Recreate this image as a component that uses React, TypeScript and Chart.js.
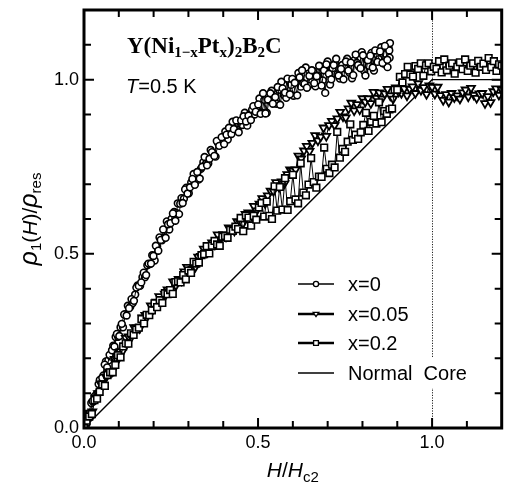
import React, { useEffect, useRef } from "react";
import { Chart, registerables } from "chart.js";

Chart.register(...registerables);

// ---------------- data ----------------
const xTickValues = [0, 0.5, 1.0];
const yTickValues = [0, 0.5, 1.0];
const minorTickValues = [0.1, 0.2, 0.3, 0.4, 0.5, 0.6, 0.7, 0.8, 0.9, 1.0, 1.1];
const hc2Line = 1.0;

const legendLabels = ["x=0", "x=0.05", "x=0.2", "Normal  Core"];

// x = 0 (circles), first field sweep: [H/Hc2, rho1/rho_res]
const seriesX0: [number, number][] = [
  [0.000, 0.000], [0.007, 0.011], [0.014, 0.042], [0.021, 0.072], [0.028, 0.077], [0.035, 0.086],
  [0.042, 0.126], [0.049, 0.137], [0.056, 0.151], [0.063, 0.191], [0.070, 0.194], [0.077, 0.205],
  [0.084, 0.236], [0.091, 0.261], [0.098, 0.262], [0.105, 0.289], [0.112, 0.289], [0.119, 0.327],
  [0.126, 0.351], [0.133, 0.348], [0.140, 0.359], [0.147, 0.383], [0.154, 0.409], [0.161, 0.408],
  [0.168, 0.433], [0.175, 0.433], [0.182, 0.467], [0.189, 0.471], [0.196, 0.496], [0.203, 0.481],
  [0.210, 0.522], [0.217, 0.547], [0.224, 0.539], [0.231, 0.546], [0.238, 0.593], [0.245, 0.570],
  [0.252, 0.601], [0.259, 0.620], [0.266, 0.617], [0.273, 0.614], [0.280, 0.660], [0.287, 0.658],
  [0.294, 0.690], [0.301, 0.674], [0.308, 0.705], [0.315, 0.729], [0.322, 0.711], [0.329, 0.713],
  [0.336, 0.744], [0.343, 0.763], [0.350, 0.758], [0.357, 0.759], [0.364, 0.798], [0.371, 0.789],
  [0.378, 0.779], [0.385, 0.818], [0.392, 0.821], [0.399, 0.822], [0.406, 0.851], [0.413, 0.828],
  [0.420, 0.861], [0.427, 0.879], [0.434, 0.858], [0.441, 0.855], [0.448, 0.880], [0.455, 0.870],
  [0.462, 0.905], [0.469, 0.868], [0.476, 0.900], [0.483, 0.914], [0.490, 0.900], [0.497, 0.913],
  [0.504, 0.946], [0.511, 0.905], [0.518, 0.942], [0.525, 0.905], [0.532, 0.941], [0.539, 0.968],
  [0.546, 0.944], [0.553, 0.931], [0.560, 0.971], [0.567, 0.994], [0.574, 0.956], [0.581, 0.948],
  [0.588, 0.998], [0.595, 0.985], [0.602, 0.954], [0.609, 1.000], [0.616, 1.019], [0.623, 0.980],
  [0.630, 0.990], [0.637, 1.035], [0.644, 0.982], [0.651, 1.012], [0.658, 1.025], [0.665, 0.981],
  [0.672, 1.011], [0.679, 1.038], [0.686, 0.998], [0.693, 0.962], [0.700, 1.052], [0.707, 0.986],
  [0.714, 1.033], [0.721, 1.046], [0.728, 1.015], [0.735, 1.003], [0.742, 1.042], [0.749, 1.033],
  [0.756, 1.060], [0.763, 1.020], [0.770, 1.004], [0.777, 1.056], [0.784, 1.048], [0.791, 1.036],
  [0.798, 1.079], [0.805, 1.025], [0.812, 1.058], [0.819, 1.040], [0.826, 1.077], [0.833, 1.026],
  [0.840, 1.074], [0.847, 1.059], [0.854, 1.093], [0.861, 1.046], [0.868, 1.074], [0.872, 1.036],
  [0.875, 1.091], [0.877, 1.084], [0.878, 1.063], [0.879, 1.105],
];

// x = 0 (circles), second field sweep
const seriesX0b: [number, number][] = [
  [0.0035, 0.022], [0.0105, 0.026], [0.0175, 0.037], [0.0245, 0.077], [0.0315, 0.092], [0.0385, 0.100],
  [0.0455, 0.138], [0.0525, 0.144], [0.0595, 0.182], [0.0665, 0.174], [0.0735, 0.210], [0.0805, 0.223],
  [0.0875, 0.234], [0.0945, 0.270], [0.1015, 0.264], [0.1085, 0.299], [0.1155, 0.326], [0.1225, 0.323],
  [0.1295, 0.344], [0.1365, 0.370], [0.1435, 0.365], [0.1505, 0.403], [0.1575, 0.408], [0.1645, 0.418],
  [0.1715, 0.446], [0.1785, 0.439], [0.1855, 0.472], [0.1925, 0.472], [0.1995, 0.494], [0.2065, 0.523],
  [0.2135, 0.509], [0.2205, 0.540], [0.2275, 0.570], [0.2345, 0.546], [0.2415, 0.585], [0.2485, 0.588],
  [0.2555, 0.616], [0.2625, 0.595], [0.2695, 0.645], [0.2765, 0.644], [0.2835, 0.646], [0.2905, 0.685],
  [0.2975, 0.673], [0.3045, 0.691], [0.3115, 0.715], [0.3185, 0.698], [0.3255, 0.735], [0.3325, 0.716],
  [0.3395, 0.750], [0.3465, 0.778], [0.3535, 0.754], [0.3605, 0.773], [0.3675, 0.792], [0.3745, 0.781],
  [0.3815, 0.824], [0.3885, 0.810], [0.3955, 0.835], [0.4025, 0.815], [0.4095, 0.842], [0.4165, 0.862],
  [0.4235, 0.844], [0.4305, 0.858], [0.4375, 0.883], [0.4445, 0.849], [0.4515, 0.883], [0.4585, 0.895],
  [0.4655, 0.880], [0.4725, 0.897], [0.4795, 0.884], [0.4865, 0.924], [0.4935, 0.908], [0.5005, 0.929],
  [0.5075, 0.902], [0.5145, 0.961], [0.5215, 0.903], [0.5285, 0.943], [0.5355, 0.961], [0.5425, 0.931],
  [0.5495, 0.950], [0.5565, 0.979], [0.5635, 0.928], [0.5705, 0.975], [0.5775, 0.963], [0.5845, 1.003],
  [0.5915, 0.958], [0.5985, 1.002], [0.6055, 0.991], [0.6125, 0.955], [0.6195, 1.007], [0.6265, 1.027],
  [0.6335, 0.988], [0.6405, 0.977], [0.6475, 1.011], [0.6545, 1.027], [0.6615, 0.990], [0.6685, 1.010],
  [0.6755, 1.040], [0.6825, 0.983], [0.6895, 1.027], [0.6965, 1.044], [0.7035, 1.017], [0.7105, 1.001],
  [0.7175, 1.042], [0.7245, 1.060], [0.7315, 1.012], [0.7385, 1.031], [0.7455, 1.001], [0.7525, 1.052],
  [0.7595, 1.026], [0.7665, 1.049], [0.7735, 1.013], [0.7805, 1.072], [0.7875, 1.042], [0.7945, 1.033],
  [0.8015, 1.070], [0.8085, 1.012], [0.8155, 1.056], [0.8225, 1.069], [0.8295, 1.035], [0.8365, 1.084],
  [0.8435, 1.051], [0.8505, 1.081], [0.8575, 1.048], [0.8645, 1.097], [0.8715, 1.057],
];

// x = 0.05 (down triangles)
const seriesX005: [number, number][] = [
  [0.000, 0.000], [0.008, 0.030], [0.016, 0.043], [0.024, 0.047], [0.032, 0.087], [0.040, 0.099],
  [0.048, 0.127], [0.056, 0.124], [0.064, 0.146], [0.072, 0.162], [0.080, 0.160], [0.088, 0.198],
  [0.096, 0.194], [0.104, 0.219], [0.112, 0.222], [0.120, 0.258], [0.128, 0.262], [0.136, 0.261],
  [0.144, 0.289], [0.152, 0.288], [0.160, 0.286], [0.168, 0.317], [0.176, 0.324], [0.184, 0.324],
  [0.192, 0.351], [0.200, 0.342], [0.208, 0.362], [0.216, 0.378], [0.224, 0.364], [0.232, 0.385],
  [0.240, 0.397], [0.248, 0.394], [0.256, 0.420], [0.264, 0.409], [0.272, 0.427], [0.280, 0.423],
  [0.288, 0.449], [0.296, 0.462], [0.304, 0.454], [0.312, 0.456], [0.320, 0.462], [0.328, 0.491],
  [0.336, 0.493], [0.344, 0.514], [0.352, 0.504], [0.360, 0.520], [0.368, 0.532], [0.376, 0.526],
  [0.384, 0.555], [0.392, 0.541], [0.400, 0.556], [0.408, 0.549], [0.416, 0.575], [0.424, 0.572],
  [0.432, 0.566], [0.440, 0.593], [0.448, 0.590], [0.456, 0.586], [0.464, 0.614], [0.472, 0.618],
  [0.480, 0.614], [0.488, 0.637], [0.496, 0.624], [0.504, 0.643], [0.512, 0.659], [0.520, 0.645],
  [0.528, 0.667], [0.536, 0.681], [0.544, 0.680], [0.552, 0.705], [0.560, 0.692], [0.568, 0.707],
  [0.576, 0.702], [0.584, 0.728], [0.592, 0.742], [0.600, 0.738], [0.608, 0.742], [0.616, 0.781],
  [0.624, 0.773], [0.632, 0.796], [0.640, 0.809], [0.648, 0.795], [0.656, 0.818], [0.664, 0.840],
  [0.672, 0.825], [0.680, 0.836], [0.688, 0.862], [0.696, 0.838], [0.704, 0.869], [0.712, 0.881],
  [0.720, 0.869], [0.728, 0.888], [0.736, 0.907], [0.744, 0.894], [0.752, 0.891], [0.760, 0.917],
  [0.768, 0.933], [0.776, 0.911], [0.784, 0.929], [0.792, 0.914], [0.800, 0.946], [0.808, 0.936],
  [0.816, 0.946], [0.824, 0.932], [0.832, 0.964], [0.840, 0.947], [0.848, 0.963], [0.856, 0.945],
  [0.864, 0.960], [0.872, 0.973], [0.880, 0.954], [0.888, 0.945], [0.896, 0.977], [0.904, 0.965],
  [0.912, 0.961], [0.920, 0.974], [0.928, 0.954], [0.936, 0.973], [0.944, 0.980], [0.952, 0.961],
  [0.960, 0.989], [0.968, 0.970], [0.976, 0.978], [0.984, 0.958], [0.992, 0.983], [1.000, 0.979],
  [1.008, 0.959], [1.016, 0.979], [1.024, 0.955], [1.032, 0.941], [1.040, 0.958], [1.048, 0.936],
  [1.056, 0.961], [1.064, 0.949], [1.072, 0.954], [1.080, 0.945], [1.088, 0.963], [1.096, 0.971],
  [1.104, 0.951], [1.112, 0.976], [1.120, 0.956], [1.128, 0.947], [1.136, 0.960], [1.144, 0.961],
  [1.152, 0.932], [1.160, 0.952], [1.168, 0.935], [1.176, 0.966], [1.184, 0.974], [1.192, 0.956],
  [1.200, 0.971],
];

// x = 0.2 (squares)
const seriesX02: [number, number][] = [
  [0.0000, 0.000], [0.0075, 0.021], [0.0150, 0.033], [0.0225, 0.040], [0.0300, 0.080], [0.0375, 0.084],
  [0.0450, 0.104], [0.0525, 0.125], [0.0600, 0.121], [0.0675, 0.152], [0.0750, 0.160], [0.0825, 0.160],
  [0.0900, 0.181], [0.0975, 0.209], [0.1050, 0.203], [0.1125, 0.234], [0.1200, 0.243], [0.1275, 0.242],
  [0.1350, 0.272], [0.1425, 0.267], [0.1500, 0.283], [0.1575, 0.288], [0.1650, 0.313], [0.1725, 0.300],
  [0.1800, 0.325], [0.1875, 0.324], [0.1950, 0.338], [0.2025, 0.358], [0.2100, 0.347], [0.2175, 0.367],
  [0.2250, 0.359], [0.2325, 0.387], [0.2400, 0.384], [0.2475, 0.396], [0.2550, 0.385], [0.2625, 0.419],
  [0.2700, 0.421], [0.2775, 0.418], [0.2850, 0.439], [0.2925, 0.427], [0.3000, 0.452], [0.3075, 0.445],
  [0.3150, 0.477], [0.3225, 0.472], [0.3300, 0.475], [0.3375, 0.496], [0.3450, 0.499], [0.3525, 0.522],
  [0.3600, 0.501], [0.3675, 0.523], [0.3750, 0.537], [0.3825, 0.527], [0.3900, 0.523], [0.3975, 0.549],
  [0.4050, 0.551], [0.4125, 0.546], [0.4200, 0.569], [0.4275, 0.566], [0.4350, 0.578], [0.4425, 0.571],
  [0.4500, 0.603], [0.4575, 0.565], [0.4650, 0.610], [0.4725, 0.604], [0.4800, 0.581], [0.4875, 0.609],
  [0.4950, 0.598], [0.5025, 0.633], [0.5100, 0.646], [0.5175, 0.607], [0.5250, 0.650], [0.5325, 0.609],
  [0.5400, 0.600], [0.5475, 0.694], [0.5550, 0.624], [0.5625, 0.692], [0.5700, 0.627], [0.5775, 0.717],
  [0.5850, 0.626], [0.5925, 0.651], [0.6000, 0.727], [0.6075, 0.656], [0.6150, 0.645], [0.6225, 0.760],
  [0.6300, 0.676], [0.6375, 0.668], [0.6450, 0.699], [0.6525, 0.775], [0.6600, 0.706], [0.6675, 0.690],
  [0.6750, 0.722], [0.6825, 0.721], [0.6900, 0.805], [0.6975, 0.744], [0.7050, 0.732], [0.7125, 0.756],
  [0.7200, 0.748], [0.7275, 0.850], [0.7350, 0.776], [0.7425, 0.801], [0.7500, 0.793], [0.7575, 0.822],
  [0.7650, 0.872], [0.7725, 0.827], [0.7800, 0.842], [0.7875, 0.830], [0.7950, 0.849], [0.8025, 0.870],
  [0.8100, 0.905], [0.8175, 0.853], [0.8250, 0.879], [0.8325, 0.896], [0.8400, 0.874], [0.8475, 0.935],
  [0.8550, 0.878], [0.8625, 0.910], [0.8700, 0.902], [0.8775, 0.915], [0.8850, 0.917], [0.8925, 0.971],
  [0.9000, 0.971], [0.9075, 1.008], [0.9150, 0.992], [0.9225, 1.016], [0.9300, 1.037], [0.9375, 1.015],
  [0.9450, 1.009], [0.9525, 1.039], [0.9600, 1.031], [0.9675, 1.047], [0.9750, 1.011], [0.9825, 1.041],
  [0.9900, 1.047], [0.9975, 1.024], [1.0050, 1.037], [1.0125, 1.031], [1.0200, 1.053], [1.0275, 1.021],
  [1.0350, 1.058], [1.0425, 1.027], [1.0500, 1.040], [1.0575, 1.047], [1.0650, 1.017], [1.0725, 1.037],
  [1.0800, 1.050], [1.0875, 1.030], [1.0950, 1.058], [1.1025, 1.025], [1.1100, 1.040], [1.1175, 1.047],
  [1.1250, 1.020], [1.1325, 1.054], [1.1400, 1.037], [1.1475, 1.046], [1.1550, 1.028], [1.1625, 1.062],
  [1.1700, 1.036], [1.1775, 1.053], [1.1850, 1.025], [1.1925, 1.044], [1.2000, 1.040],
];

// Normal core model
const normalX = [0, 1.0, 1.2];
const normalY = [0, 1.0, 1.0];

// ---------------- styling helpers ----------------
const SANS = '"Liberation Sans", Arial, Helvetica, sans-serif';
const SERIF = '"Liberation Serif", "Times New Roman", Times, serif';

type Part = { t: string; f: string; dy?: number };

function richWidth(ctx: CanvasRenderingContext2D, parts: Part[]) {
  let w = 0;
  for (const p of parts) {
    ctx.font = p.f;
    w += ctx.measureText(p.t).width;
  }
  return w;
}
function drawRich(ctx: CanvasRenderingContext2D, parts: Part[], x: number, y: number) {
  let cx = x;
  for (const p of parts) {
    ctx.font = p.f;
    ctx.fillText(p.t, cx, y + (p.dy || 0));
    cx += ctx.measureText(p.t).width;
  }
}

function drawMarker(ctx: CanvasRenderingContext2D, kind: string, x: number, y: number, r: number) {
  ctx.beginPath();
  if (kind === "circle") {
    ctx.arc(x, y, r, 0, Math.PI * 2);
  } else if (kind === "triangle") {
    ctx.moveTo(x - r, y - r * 0.6);
    ctx.lineTo(x + r, y - r * 0.6);
    ctx.lineTo(x, y + r * 0.9);
    ctx.closePath();
  } else {
    ctx.rect(x - r, y - r, 2 * r, 2 * r);
  }
  ctx.fillStyle = "#fff";
  ctx.fill();
  ctx.stroke();
}

const decorPlugin = {
  id: "decor",
  beforeDatasetsDraw(chart: any) {
    const { ctx, chartArea: a, scales } = chart;
    const px = Math.round(scales.x.getPixelForValue(hc2Line)) + 0.5;
    ctx.save();
    ctx.strokeStyle = "#222";
    ctx.lineWidth = 1;
    ctx.setLineDash([1.2, 1.4]);
    ctx.beginPath();
    ctx.moveTo(px, a.top);
    ctx.lineTo(px, a.bottom);
    ctx.stroke();
    ctx.restore();
  },
  afterDatasetsDraw(chart: any) {
    const { ctx, chartArea: a, scales } = chart;
    const xs = scales.x;
    const ys = scales.y;
    ctx.save();

    // frame
    ctx.strokeStyle = "#000";
    ctx.lineWidth = 3;
    ctx.strokeRect(a.left, a.top, a.right - a.left, a.bottom - a.top);

    // inward ticks on four sides
    ctx.lineWidth = 2;
    ctx.beginPath();
    minorTickValues.forEach((v) => {
      const major = Math.abs(v * 2 - Math.round(v * 2)) < 1e-6;
      const len = major ? 10 : 7;
      const px = xs.getPixelForValue(v);
      ctx.moveTo(px, a.bottom);
      ctx.lineTo(px, a.bottom - len);
      ctx.moveTo(px, a.top);
      ctx.lineTo(px, a.top + len);
      const py = ys.getPixelForValue(v);
      ctx.moveTo(a.left, py);
      ctx.lineTo(a.left + len, py);
      ctx.moveTo(a.right, py);
      ctx.lineTo(a.right - len, py);
    });
    ctx.stroke();

    ctx.fillStyle = "#000";
    ctx.textBaseline = "alphabetic";
    ctx.textAlign = "left";

    // compound title
    const TB = `bold 23px ${SERIF}`;
    const TS = `bold 15px ${SERIF}`;
    drawRich(
      ctx,
      [
        { t: "Y(Ni", f: TB },
        { t: "1\u2212x", f: TS, dy: 4 },
        { t: "Pt", f: TB },
        { t: "x", f: TS, dy: 4 },
        { t: ")", f: TB },
        { t: "2", f: TS, dy: 4 },
        { t: "B", f: TB },
        { t: "2", f: TS, dy: 4 },
        { t: "C", f: TB },
      ],
      127,
      53
    );

    // temperature
    drawRich(
      ctx,
      [
        { t: "T", f: `italic 20px ${SANS}` },
        { t: "=0.5 K", f: `20px ${SANS}` },
      ],
      126,
      93
    );

    // legend
    const rows = [284, 314, 343, 373];
    const kinds = ["circle", "triangle", "rect", "none"];
    const lw = [1.3, 2.6, 2.6, 1.3];
    const mr = [2.6, 2.8, 2.4, 0];
    rows.forEach((ry, i) => {
      ctx.strokeStyle = "#000";
      ctx.lineWidth = lw[i];
      ctx.beginPath();
      ctx.moveTo(298, ry);
      ctx.lineTo(334, ry);
      ctx.stroke();
      if (kinds[i] !== "none") {
        ctx.lineWidth = 1.3;
        drawMarker(ctx, kinds[i], 316, ry, mr[i]);
      }
      ctx.font = `20px ${SANS}`;
      const w = ctx.measureText(legendLabels[i]).width;
      ctx.fillStyle = "#fff";
      ctx.fillRect(346, ry - 15, w + 4, 30);
      ctx.fillStyle = "#000";
      ctx.textBaseline = "middle";
      ctx.fillText(legendLabels[i], 348, ry + 1);
      ctx.textBaseline = "alphabetic";
    });

    // x axis title
    const AX = `21px ${SANS}`;
    const AXI = `italic 21px ${SANS}`;
    const AXS = `15px ${SANS}`;
    const RHO = `italic 25px ${SANS}`;
    const xParts: Part[] = [
      { t: "H", f: AXI },
      { t: "/", f: AX },
      { t: "H", f: AXI },
      { t: "c2", f: AXS, dy: 5 },
    ];
    const xw = richWidth(ctx, xParts);
    drawRich(ctx, xParts, (a.left + a.right) / 2 - xw / 2, 477);

    // y axis title
    const yParts: Part[] = [
      { t: "\u03C1", f: RHO },
      { t: "1", f: AXS, dy: 4 },
      { t: "(", f: AX },
      { t: "H", f: AXI },
      { t: ")", f: AX },
      { t: "/", f: AX },
      { t: "\u03C1", f: RHO },
      { t: "res", f: AXS, dy: 4 },
    ];
    const yw = richWidth(ctx, yParts);
    ctx.translate(37, (a.top + a.bottom) / 2);
    ctx.rotate(-Math.PI / 2);
    drawRich(ctx, yParts, -yw / 2, 0);

    ctx.restore();
  },
};

function toPts(arr: [number, number][]) {
  return arr.map(([x, y]) => ({ x, y }));
}

export default function App() {
  const ref = useRef<HTMLCanvasElement | null>(null);

  useEffect(() => {
    if (!ref.current) return;
    const tickFont = { family: SANS, size: 18 };
    const circleStyle = {
      showLine: true,
      borderColor: "#000",
      borderWidth: 1,
      pointStyle: "circle",
      pointRadius: 3.4,
      pointBorderWidth: 1.6,
      pointBackgroundColor: "#fff",
      pointBorderColor: "#000",
    };
    const chart = new Chart(ref.current, {
      type: "scatter",
      data: {
        datasets: [
          {
            label: "Normal Core",
            data: normalX.map((x, i) => ({ x, y: normalY[i] })),
            showLine: true,
            borderColor: "#000",
            borderWidth: 1.4,
            pointRadius: 0,
            order: 5,
          },
          { label: "x=0", data: toPts(seriesX0), ...circleStyle, order: 4 },
          { label: "x=0 (sweep 2)", data: toPts(seriesX0b), ...circleStyle, order: 3 },
          {
            label: "x=0.05",
            data: toPts(seriesX005),
            showLine: true,
            borderColor: "#000",
            borderWidth: 1,
            pointStyle: "triangle",
            rotation: 180,
            pointRadius: 4.5,
            pointBorderWidth: 1.8,
            pointBackgroundColor: "#fff",
            pointBorderColor: "#000",
            order: 2,
          },
          {
            label: "x=0.2",
            data: toPts(seriesX02),
            showLine: true,
            borderColor: "#000",
            borderWidth: 1,
            pointStyle: "rect",
            pointRadius: 4.7,
            pointBorderWidth: 1.6,
            pointBackgroundColor: "#fff",
            pointBorderColor: "#000",
            order: 1,
          },
        ],
      },
      options: {
        responsive: false,
        animation: false,
        layout: { padding: { top: 10, right: 4, left: 0, bottom: 0 } },
        plugins: {
          legend: { display: false },
          tooltip: { enabled: false },
        },
        scales: {
          x: {
            type: "linear",
            min: 0,
            max: 1.2,
            grid: { display: false, drawTicks: false },
            border: { display: false },
            afterBuildTicks: (s: any) => {
              s.ticks = xTickValues.map((v) => ({ value: v }));
            },
            afterFit: (s: any) => {
              s.height = 56;
              s.paddingLeft = 0;
              s.paddingRight = 0;
            },
            ticks: {
              color: "#000",
              font: tickFont,
              padding: 4,
              maxRotation: 0,
              callback: (v: any) => Number(v).toFixed(1),
            },
          },
          y: {
            type: "linear",
            min: 0,
            max: 1.2,
            grid: { display: false, drawTicks: false },
            border: { display: false },
            afterBuildTicks: (s: any) => {
              s.ticks = yTickValues.map((v) => ({ value: v }));
            },
            afterFit: (s: any) => {
              s.width = 84;
              s.paddingTop = 0;
              s.paddingBottom = 0;
            },
            ticks: {
              color: "#000",
              font: tickFont,
              padding: 5,
              callback: (v: any) => Number(v).toFixed(1),
            },
          },
        },
      } as any,
      plugins: [decorPlugin],
    });
    return () => chart.destroy();
  }, []);

  return (
    <div
      style={{
        position: "fixed",
        left: 0,
        top: 0,
        width: 508,
        height: 484,
        background: "#fff",
      }}
    >
      <canvas ref={ref} width={508} height={484} style={{ width: 508, height: 484, display: "block" }} />
    </div>
  );
}
